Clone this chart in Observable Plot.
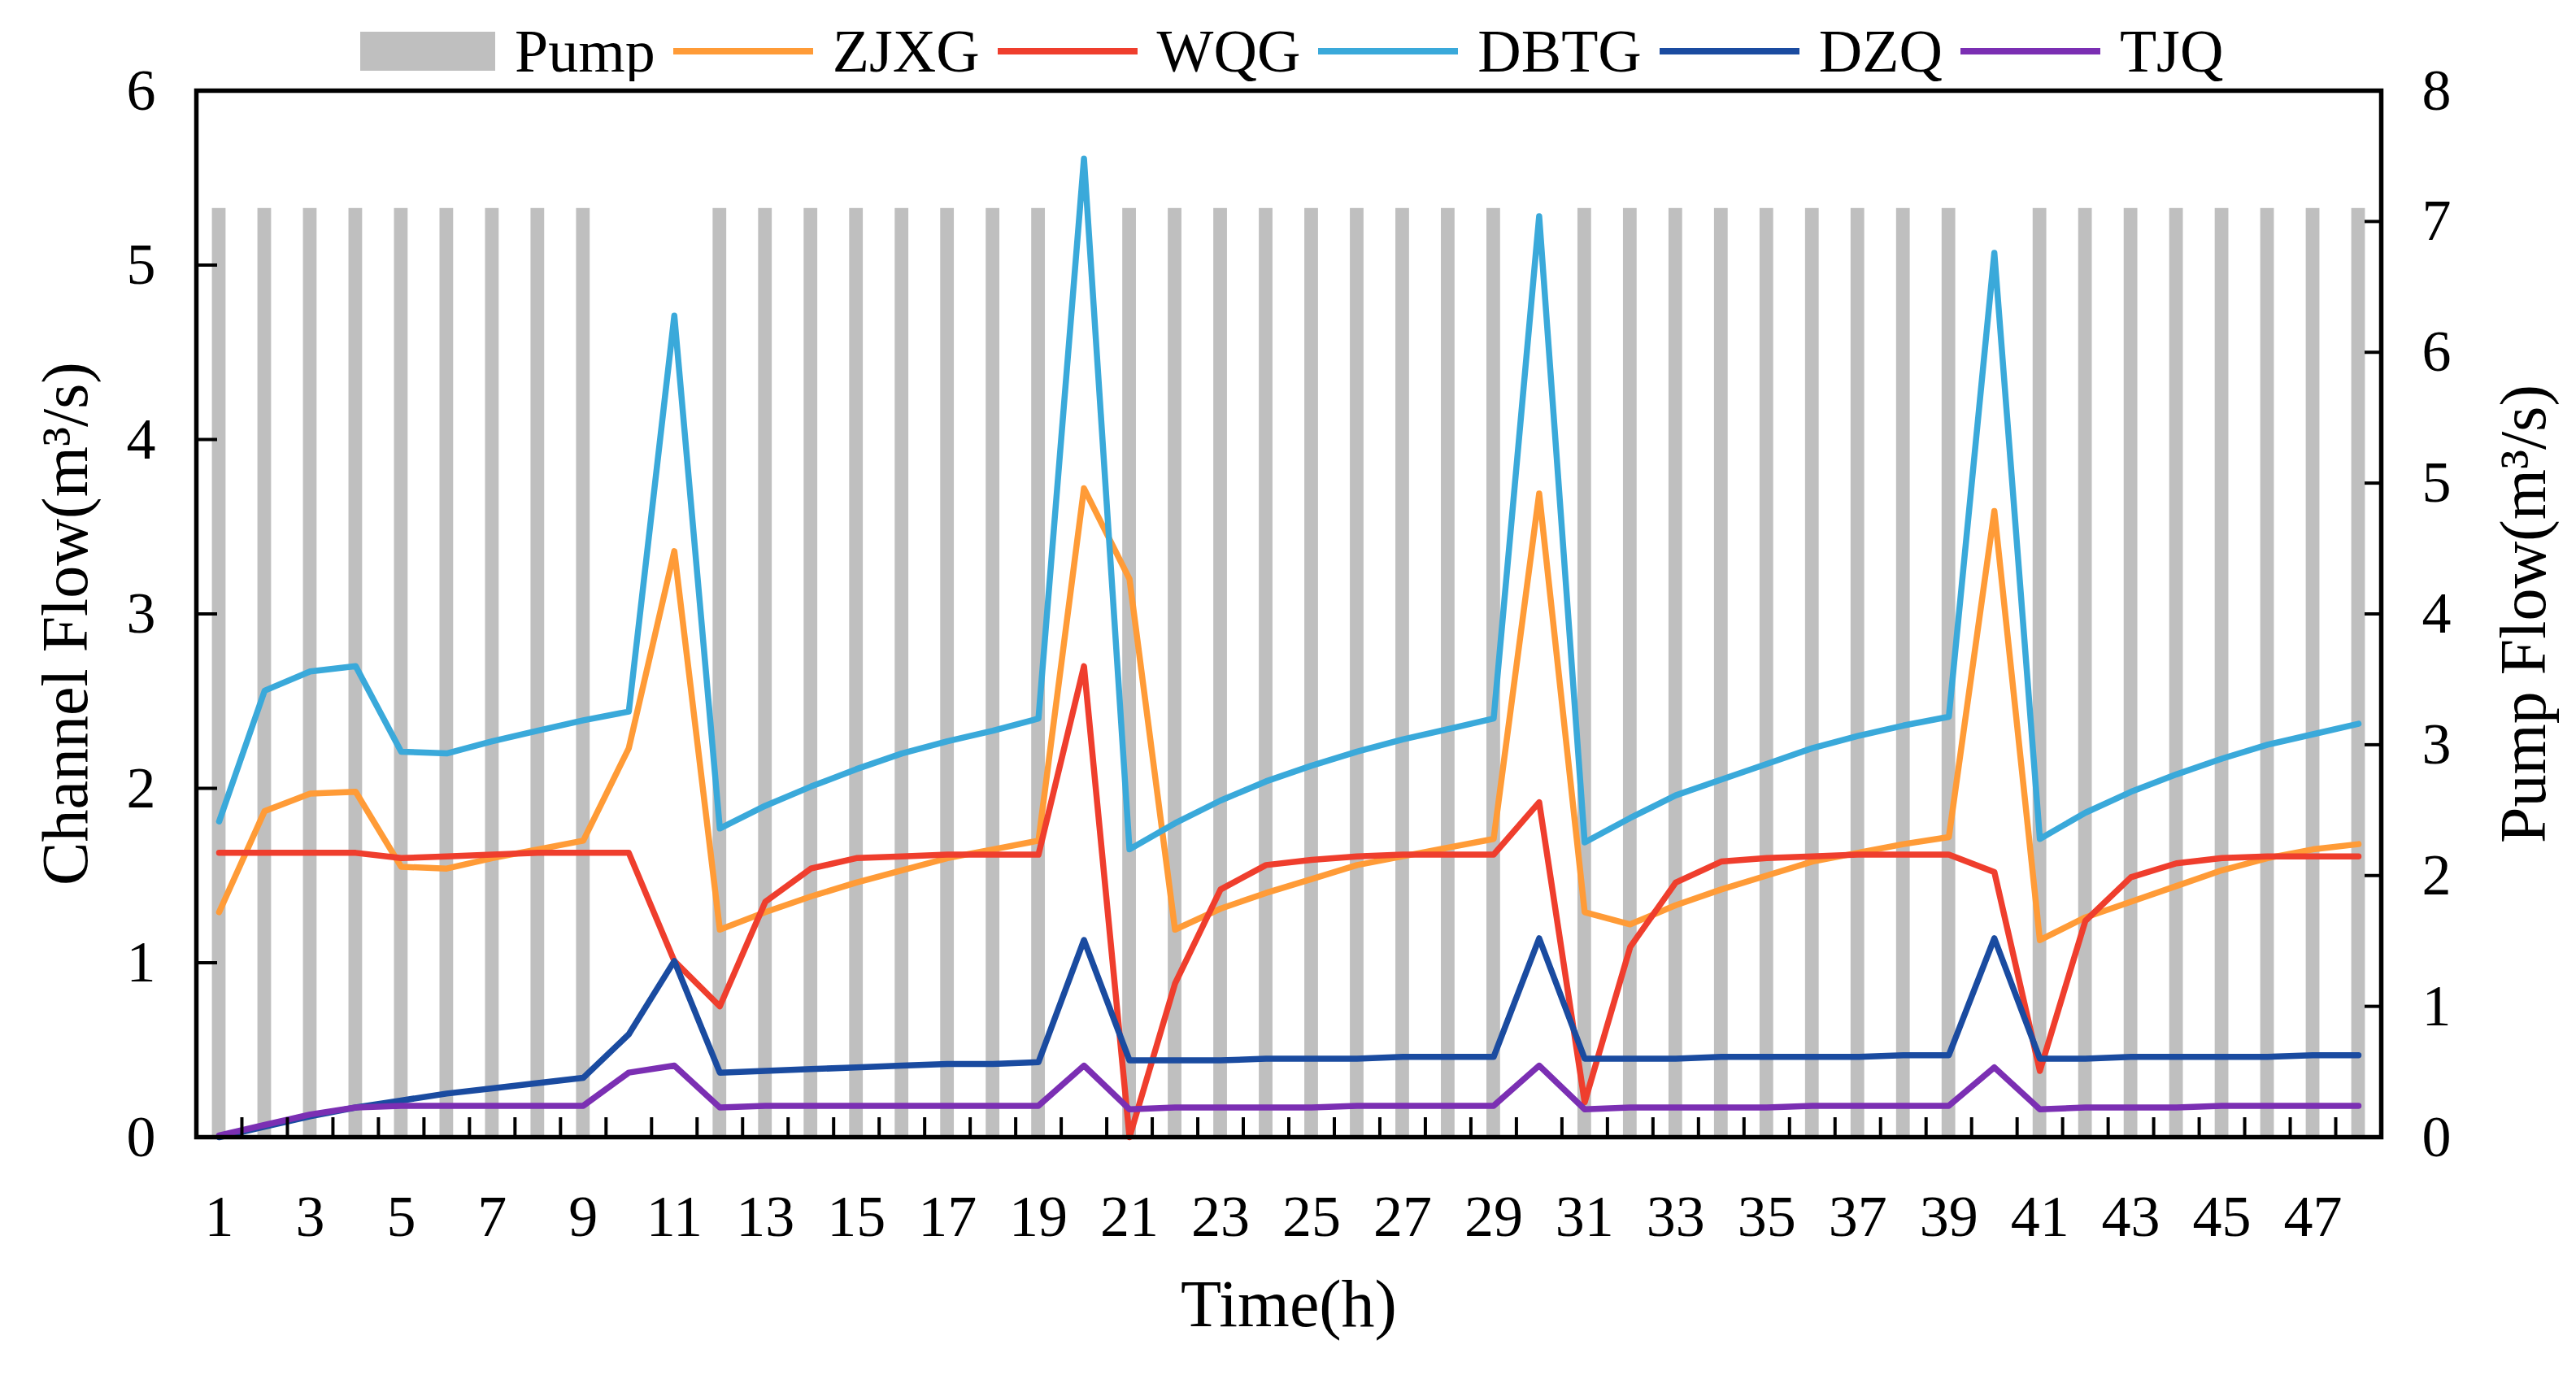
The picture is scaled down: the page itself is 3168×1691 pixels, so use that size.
<!DOCTYPE html>
<html>
<head>
<meta charset="utf-8">
<script src="https://cdn.jsdelivr.net/npm/d3@7"></script>
<script src="https://cdn.jsdelivr.net/npm/@observablehq/plot@0.6"></script>
<style>
  html, body { margin: 0; padding: 0; background: #fff; }
  body { width: 3168px; height: 1691px; overflow: hidden; position: relative;
         font-family: 'Liberation Serif', 'Times New Roman', serif; }
  #legend { position: absolute; top: 0; left: 0; width: 3168px; height: 126px;
            display: flex; align-items: center; padding-left: 443px; box-sizing: border-box; }
  #legend .sw-rect { width: 166px; height: 48px; }
  #legend .sw-line { width: 172px; height: 8px; }
  #legend .lab { font-size: 74px; line-height: 1; margin-left: 24px; margin-right: 22px; color: #000; }
  #chart { position: absolute; top: 100px; left: 0; }
</style>
</head>
<body>
<div id="legend"></div>
<div id="chart"></div>
<script>
// ---------- data ----------
const hours = [1,2,3,4,5,6,7,8,9,10,11,12,13,14,15,16,17,18,19,20,21,22,23,24,
               25,26,27,28,29,30,31,32,33,34,35,36,37,38,39,40,41,42,43,44,45,46,47,48];

const pump = [7.1,7.1,7.1,7.1,7.1,7.1,7.1,7.1,7.1,0,0,7.1,7.1,7.1,7.1,7.1,7.1,7.1,7.1,0,
              7.1,7.1,7.1,7.1,7.1,7.1,7.1,7.1,7.1,0,7.1,7.1,7.1,7.1,7.1,7.1,7.1,7.1,7.1,0,
              7.1,7.1,7.1,7.1,7.1,7.1,7.1,7.1];

const ZJXG = [1.29,1.87,1.97,1.98,1.55,1.54,1.60,1.65,1.70,2.23,3.36,1.19,1.29,1.38,1.46,1.53,
              1.60,1.65,1.70,3.72,3.20,1.19,1.31,1.40,1.48,1.56,1.61,1.66,1.71,3.69,1.29,1.22,
              1.33,1.42,1.50,1.58,1.63,1.68,1.72,3.59,1.13,1.26,1.35,1.44,1.53,1.60,1.65,1.68];

const WQG  = [1.63,1.63,1.63,1.63,1.60,1.61,1.62,1.63,1.63,1.63,1.01,0.75,1.35,1.54,1.60,1.61,
              1.62,1.62,1.62,2.70,0.00,0.88,1.42,1.56,1.59,1.61,1.62,1.62,1.62,1.92,0.20,1.09,
              1.46,1.58,1.60,1.61,1.62,1.62,1.62,1.52,0.38,1.24,1.49,1.57,1.60,1.61,1.61,1.61];

const DBTG = [1.81,2.56,2.67,2.70,2.21,2.20,2.27,2.33,2.39,2.44,4.71,1.77,1.90,2.01,2.11,2.20,
              2.27,2.33,2.40,5.61,1.65,1.80,1.93,2.04,2.13,2.21,2.28,2.34,2.40,5.28,1.69,1.83,
              1.96,2.05,2.14,2.23,2.30,2.36,2.41,5.07,1.71,1.86,1.98,2.08,2.17,2.25,2.31,2.37];

const DZQ  = [0.00,0.06,0.12,0.17,0.21,0.25,0.28,0.31,0.34,0.59,1.01,0.37,0.38,0.39,0.40,0.41,
              0.42,0.42,0.43,1.13,0.44,0.44,0.44,0.45,0.45,0.45,0.46,0.46,0.46,1.14,0.45,0.45,
              0.45,0.46,0.46,0.46,0.46,0.47,0.47,1.14,0.45,0.45,0.46,0.46,0.46,0.46,0.47,0.47];

const TJQ  = [0.01,0.07,0.13,0.17,0.18,0.18,0.18,0.18,0.18,0.37,0.41,0.17,0.18,0.18,0.18,0.18,
              0.18,0.18,0.18,0.41,0.16,0.17,0.17,0.17,0.17,0.18,0.18,0.18,0.18,0.41,0.16,0.17,
              0.17,0.17,0.17,0.18,0.18,0.18,0.18,0.40,0.16,0.17,0.17,0.17,0.18,0.18,0.18,0.18];

const seriesNames  = ["ZJXG", "WQG", "DBTG", "DZQ", "TJQ"];
const seriesValues = [ZJXG, WQG, DBTG, DZQ, TJQ];
const seriesColors = ["#ff9b37", "#ef3e2d", "#3aa9da", "#1a4ba0", "#7b2fb3"];
const pumpColor = "#bfbfbf";

const leftTicks  = [0, 1, 2, 3, 4, 5, 6];
const rightTicks = [0, 1, 2, 3, 4, 5, 6, 7, 8];
const xLabels    = [1,3,5,7,9,11,13,15,17,19,21,23,25,27,29,31,33,35,37,39,41,43,45,47];

// ---------- derived tables ----------
const ratio = 6 / 8; // right axis (0–8) mapped onto left axis (0–6)
const pumpRows = hours.map((h, i) => ({h, pump: pump[i]})).filter(d => d.pump > 0);
const lineRows = seriesNames.flatMap((name, s) =>
  seriesValues[s].map((v, i) => ({h: hours[i], v, series: name})));
const xBounds = hours.slice(0, -1).map(h => h + 0.5);

// ---------- legend ----------
const legend = document.getElementById("legend");
function addItem(cls, color, text) {
  const sw = document.createElement("div");
  sw.className = cls;
  sw.style.background = color;
  const lab = document.createElement("div");
  lab.className = "lab";
  lab.textContent = text;
  legend.appendChild(sw);
  legend.appendChild(lab);
}
addItem("sw-rect", pumpColor, "Pump");
seriesNames.forEach((n, i) => addItem("sw-line", seriesColors[i], n));

// ---------- chart ----------
const W = 3168, H = 1591, mt = 11, mb = 293, ml = 241, mr = 240;
const fw = W - ml - mr, fh = H - mt - mb;

const chart = Plot.plot({
  width: W, height: H,
  marginTop: mt, marginBottom: mb, marginLeft: ml, marginRight: mr,
  style: {fontFamily: "'Liberation Serif', 'Times New Roman', serif", fontSize: "72px",
          background: "white", color: "black", overflow: "visible"},
  x: {domain: [0.5, 48.5], axis: null},
  y: {domain: [0, 6], axis: null},
  color: {domain: seriesNames, range: seriesColors},
  marks: [
    Plot.rectY(pumpRows, {x1: d => d.h - 0.15, x2: d => d.h + 0.15, y: d => d.pump * ratio, fill: pumpColor}),
    Plot.line(lineRows, {x: "h", y: "v", z: "series", stroke: "series", strokeWidth: 7.5}),
    Plot.tickX(xBounds, {x: d => d, insetTop: fh - 24, stroke: "black", strokeWidth: 4}),
    Plot.tickY(leftTicks, {y: d => d, insetRight: fw - 26, stroke: "black", strokeWidth: 4}),
    Plot.tickY(rightTicks.map(k => k * ratio), {y: d => d, insetLeft: fw - 20, stroke: "black", strokeWidth: 4}),
    Plot.frame({stroke: "black", strokeWidth: 5.5}),
    Plot.axisX(xLabels, {tickSize: 0, tickPadding: 70, fontSize: 72, label: null, tickFormat: d => String(d)}),
    Plot.axisY(leftTicks, {anchor: "left", tickSize: 0, tickPadding: 50, fontSize: 72, label: null,
               tickFormat: d => String(d)}),
    Plot.axisY(rightTicks.map(k => k * ratio), {anchor: "right", tickSize: 0, tickPadding: 50, fontSize: 72,
               label: null, tickFormat: d => String(Math.round(d / ratio))}),
    Plot.text(["Time(h)"], {frameAnchor: "bottom", dy: 232, fontSize: 82, fill: "black", textAnchor: "middle"}),
    Plot.text(["Channel Flow(m³/s)"], {frameAnchor: "left", dx: -160, dy: 12, rotate: -90, fontSize: 80,
               fill: "black", textAnchor: "middle", lineAnchor: "middle"}),
    Plot.text(["Pump Flow(m³/s)"], {frameAnchor: "right", dx: 176, rotate: -90, fontSize: 80,
               fill: "black", textAnchor: "middle", lineAnchor: "middle"})
  ]
});
document.getElementById("chart").appendChild(chart);
</script>
</body>
</html>
